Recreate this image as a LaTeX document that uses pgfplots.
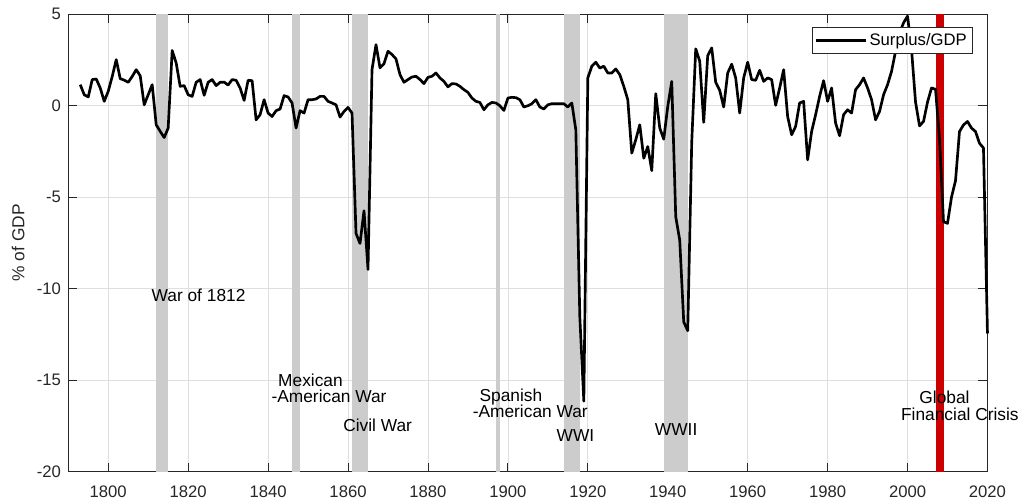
\documentclass[border=0pt]{standalone}
\usepackage{pgfplots}
\pgfplotsset{compat=1.18}
\usepackage{pgfplotstable}
\usepackage{fontspec}
\setmainfont{Liberation Sans}

\definecolor{warshade}{RGB}{204,204,204}
\definecolor{crisisred}{RGB}{204,0,0}
\definecolor{axgray}{RGB}{38,38,38}
\definecolor{gridgray}{RGB}{223,223,223}

% federal surplus as share of GDP
\pgfplotstableread{
year surplus
1793 1.15
1794 0.60
1795 0.48
1796 1.43
1797 1.46
1798 0.97
1799 0.24
1800 0.79
1801 1.60
1802 2.52
1803 1.48
1804 1.40
1805 1.28
1806 1.60
1807 1.97
1808 1.64
1809 0.05
1810 0.60
1811 1.15
1812 -1.04
1813 -1.40
1814 -1.74
1815 -1.22
1816 3.02
1817 2.34
1818 1.06
1819 1.10
1820 0.60
1821 0.51
1822 1.28
1823 1.43
1824 0.57
1825 1.28
1826 1.43
1827 1.10
1828 1.28
1829 1.29
1830 1.13
1831 1.43
1832 1.39
1833 0.97
1834 0.29
1835 1.39
1836 1.37
1837 -0.77
1838 -0.49
1839 0.33
1840 -0.40
1841 -0.59
1842 -0.27
1843 -0.18
1844 0.55
1845 0.48
1846 0.15
1847 -1.22
1848 -0.27
1849 -0.40
1850 0.33
1851 0.33
1852 0.37
1853 0.51
1854 0.51
1855 0.24
1856 0.15
1857 0.05
1858 -0.62
1859 -0.31
1860 -0.09
1861 -0.40
1862 -6.98
1863 -7.53
1864 -5.74
1865 -8.95
1866 1.97
1867 3.34
1868 2.07
1869 2.30
1870 2.98
1871 2.80
1872 2.56
1873 1.70
1874 1.28
1875 1.43
1876 1.57
1877 1.61
1878 1.43
1879 1.21
1880 1.55
1881 1.61
1882 1.79
1883 1.52
1884 1.33
1885 1.03
1886 1.21
1887 1.19
1888 1.06
1889 0.88
1890 0.73
1891 0.42
1892 0.24
1893 0.18
1894 -0.22
1895 0.05
1896 0.18
1897 0.15
1898 0.00
1899 -0.26
1900 0.42
1901 0.46
1902 0.44
1903 0.33
1904 -0.07
1905 0.00
1906 0.11
1907 0.33
1908 -0.07
1909 -0.18
1910 0.05
1911 0.11
1912 0.11
1913 0.11
1914 0.11
1915 -0.07
1916 0.15
1917 -1.32
1918 -11.55
1919 -16.15
1920 1.52
1921 2.16
1922 2.38
1923 2.06
1924 2.16
1925 1.79
1926 1.79
1927 2.01
1928 1.70
1929 1.06
1930 0.33
1931 -2.59
1932 -1.86
1933 -1.04
1934 -2.87
1935 -2.23
1936 -3.55
1937 0.66
1938 -1.22
1939 -1.83
1940 -0.04
1941 1.33
1942 -6.07
1943 -7.35
1944 -11.82
1945 -12.30
1946 -2.00
1947 3.11
1948 2.44
1949 -0.91
1950 2.74
1951 3.16
1952 1.28
1953 0.84
1954 -0.07
1955 1.79
1956 2.27
1957 1.52
1958 -0.40
1959 1.52
1960 2.38
1961 1.43
1962 1.39
1963 1.94
1964 1.33
1965 1.52
1966 1.43
1967 0.02
1968 0.97
1969 1.97
1970 -0.59
1971 -1.59
1972 -1.13
1973 0.15
1974 0.24
1975 -2.96
1976 -1.41
1977 -0.49
1978 0.51
1979 1.37
1980 0.24
1981 0.97
1982 -0.95
1983 -1.64
1984 -0.49
1985 -0.22
1986 -0.40
1987 0.88
1988 1.15
1989 1.52
1990 0.97
1991 0.33
1992 -0.77
1993 -0.31
1994 0.60
1995 1.15
1996 1.88
1997 2.98
1998 3.98
1999 4.53
2000 4.90
2001 3.07
2002 0.20
2003 -1.10
2004 -0.86
2005 0.20
2006 0.97
2007 0.90
2008 -1.80
2009 -6.34
2010 -6.43
2011 -5.00
2012 -4.10
2013 -1.41
2014 -1.05
2015 -0.86
2016 -1.22
2017 -1.41
2018 -2.05
2019 -2.31
2020 -12.45
}\surplus

\begin{document}
\begin{tikzpicture}
\useasboundingbox (-51.2pt,-22.7pt) rectangle (716.8pt,353.7pt);
\begin{axis}[
  scale only axis, width=689.4pt, height=343pt,
  xmin=1790, xmax=2020, ymin=-20, ymax=5,
  clip=false,
  xtick={1800,1820,...,2020}, ytick={-20,-15,...,5},
  /pgf/number format/1000 sep={},
  /pgf/number format/assume math mode=true,
  tick align=inside, major tick length=6.75pt,
  grid=major, major grid style={gridgray, line width=0.5pt},
  axis line style={axgray, line width=0.6pt},
  tick style={axgray, line width=0.6pt},
  tick label style={font=\fontsize{12.5}{14}\selectfont, text=axgray, inner sep=0pt},
  xticklabel style={anchor=center, yshift=-15pt},
  yticklabel style={anchor=east, xshift=-5.25pt},
  ylabel={\% of GDP},
  ylabel style={at={(axis description cs:-0.0545,0.5)}, anchor=center, font=\fontsize{13}{15}\selectfont, text=axgray},
  legend style={at={(0.9837,0.9715)}, anchor=north east, draw=axgray, line width=0.5pt,
    font=\fontsize{12.5}{14}\selectfont, inner xsep=2pt, inner ysep=2.5pt},
  legend cell align=left,
  legend image code/.code={\draw[#1, line width=2pt] (0pt,0pt) -- (37pt,0pt);},
]
% war periods
\addplot[fill=warshade, draw=none, forget plot] coordinates {(1812,-20) (1812,5) (1815,5) (1815,-20)} -- cycle;
\addplot[fill=warshade, draw=none, forget plot] coordinates {(1846,-20) (1846,5) (1848,5) (1848,-20)} -- cycle;
\addplot[fill=warshade, draw=none, forget plot] coordinates {(1861,-20) (1861,5) (1865,5) (1865,-20)} -- cycle;
\addplot[fill=warshade, draw=none, forget plot] coordinates {(1897,-20) (1897,5) (1898,5) (1898,-20)} -- cycle;
\addplot[fill=warshade, draw=none, forget plot] coordinates {(1914,-20) (1914,5) (1918,5) (1918,-20)} -- cycle;
\addplot[fill=warshade, draw=none, forget plot] coordinates {(1939,-20) (1939,5) (1945,5) (1945,-20)} -- cycle;
\addplot[fill=crisisred, draw=none, forget plot] coordinates {(2007,-20) (2007,5) (2009,5) (2009,-20)} -- cycle;

\addplot[black, line width=2pt, line join=round] table[x=year, y=surplus] {\surplus};
\addlegendentry{Surplus/GDP}

\begin{scope}[every node/.style={font=\fontsize{13}{15}\selectfont, inner sep=0pt}]
\node at (axis cs:1822.6,-10.35) {War of 1812};
\node at (axis cs:1850.6,-15.01) {Mexican};
\node at (axis cs:1855.25,-15.89) {-American War};
\node at (axis cs:1867.4,-17.48) {Civil War};
\node at (axis cs:1900.75,-15.94) {Spanish};
\node at (axis cs:1905.6,-16.71) {-American War};
\node at (axis cs:1916.9,-18.03) {WWI};
\node at (axis cs:1942.1,-17.70) {WWII};
\node at (axis cs:2009.25,-15.95) {Global};
\node at (axis cs:2013.1,-16.85) {Financial Crisis};
\end{scope}
\end{axis}
\end{tikzpicture}
\end{document}
